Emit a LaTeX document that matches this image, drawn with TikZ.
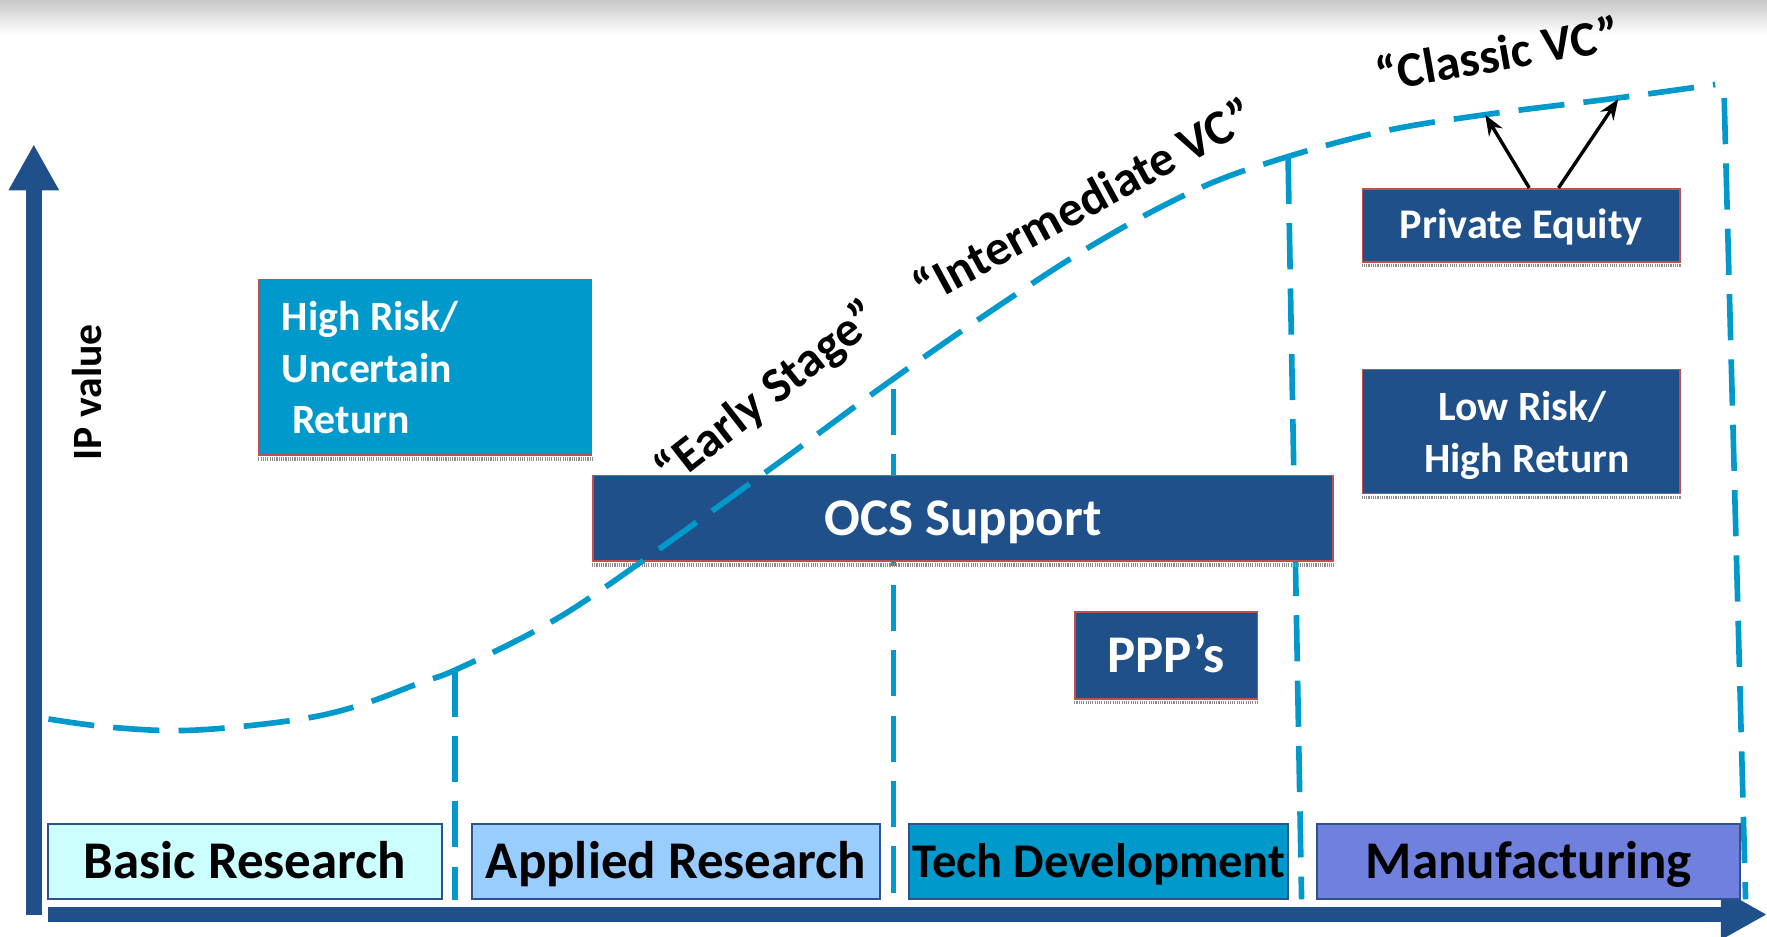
\documentclass[tikz,border=0pt]{standalone}
\usepackage{fontspec}
\setmainfont{Carlito}
\usetikzlibrary{arrows.meta}
\definecolor{navy}{RGB}{31,80,138}
\definecolor{cyanblue}{RGB}{0,153,204}
\definecolor{lightcyan}{RGB}{204,255,255}
\definecolor{paleblue}{RGB}{153,204,255}
\definecolor{manuf}{RGB}{111,128,222}
\definecolor{redline}{RGB}{192,80,77}
\definecolor{stageline}{RGB}{47,82,143}
\begin{document}
\begin{tikzpicture}[x=1pt,y=-1pt,
  fs/.style={font=\fontsize{#1}{#1}\selectfont\bfseries},
  stagebox/.style={draw=stageline, line width=1.8pt, inner sep=0pt, minimum height=67pt,
    text height=30.3pt, text depth=0pt, fs=47, text=black},
  darkbox/.style={draw=redline, line width=1.5pt, fill=navy, inner sep=0pt, text=white},
  shadowline/.style={draw=black!45, line width=3pt, dash pattern=on 1pt off 1pt},
  dashline/.style={draw=cyanblue, line width=5pt, dash pattern=on 41pt off 17pt},
  axisarrow/.style={draw=navy, line width=14pt, -{Triangle[length=41pt,width=42pt]}},
  ptr/.style={draw=black, line width=3pt, -{Stealth[length=18pt,width=14pt]}},
  rot/.style={text=black, fs=44, inner sep=0pt}]
\useasboundingbox (0,0) rectangle (1568,830.6);
\fill[white] (0,0) rectangle (1568,830.6);
\shade[top color=black!22, bottom color=white] (0,0) rectangle (1568,30);

% axes
\coordinate (yb) at (30,812);
\coordinate (yt) at (30,128);
\coordinate (xb) at (43,811.5);
\coordinate (xt) at (1568,811.5);
\draw[axisarrow] (yb) -- (yt);
\draw[axisarrow] (xb) -- (xt);

% stage dividers
\coordinate (d1t) at (404,595);  \coordinate (d1b) at (404,799);
\coordinate (d2t) at (793,345);  \coordinate (d2b) at (793,799);
\coordinate (d3t) at (1143,140); \coordinate (d3b) at (1155,798);
\coordinate (d4t) at (1530,87);  \coordinate (d4b) at (1549,798);
\draw[dashline] (d1t) -- (d1b);
\draw[dashline] (d2t) -- (d2b);
\draw[dashline] (d3t) -- (d3b);
\draw[dashline] (d4t) -- (d4b);

% stage boxes
\node[stagebox, fill=lightcyan, minimum width=349pt] (br) at (217.5,764.5) {Basic Research};
\node[stagebox, fill=paleblue, minimum width=362pt] (ar) at (600,764.5) {Applied Research};
\node[stagebox, fill=cyanblue, minimum width=336pt, fs=43, text height=27.7pt] (td) at (975,764.5) {Tech Development};
\node[stagebox, fill=manuf, minimum width=375pt] (mf) at (1356.5,764.5) {Manufacturing};

% high risk
\node[darkbox, fill=cyanblue, minimum width=295pt, minimum height=156pt] (hr) at (377.5,326) {};
\node[fs=37, text=white, anchor=base west, inner sep=0pt] (hr1) at (250,293) {High Risk/};
\node[fs=37, text=white, anchor=base west, inner sep=0pt] (hr2) at (250,339) {Uncertain};
\node[fs=37, text=white, anchor=base west, inner sep=0pt] (hr3) at (259,385) {Return};

% other boxes
\node[darkbox, minimum width=657pt, minimum height=76pt, fs=47, text height=30.3pt, text depth=0pt] (ocs) at (854.5,460) {OCS Support};
\node[darkbox, minimum width=162pt, minimum height=77pt, fs=47, text height=30.3pt, text depth=0pt] (ppp) at (1035,581.5) {PPP’s};
\node[darkbox, minimum width=282pt, minimum height=65pt, fs=37.5, text height=24.1pt, text depth=0pt] (pe) at (1350,200) {Private Equity};
\node[darkbox, minimum width=282pt, minimum height=110pt] (lr) at (1350,383) {};
\node[fs=37, text=white, anchor=base, inner sep=0pt] (lr1) at (1351,373.5) {Low Risk/};
\node[fs=37, text=white, anchor=base, inner sep=0pt] (lr2) at (1355,419.5) {High Return};

\foreach \b in {hr,ocs,ppp,pe,lr}
  \draw[shadowline] ([yshift=-2.6pt]\b.south west) -- ([yshift=-2.6pt]\b.south east);

% value curve
\draw[dashline] plot[smooth, tension=0.6] coordinates {(43,638) (100,645.5) (170,648) (261,639) (317,626.5) (372.5,606) (404,594.5) (477.5,558.4) (542,517.6) (684,415.7) (779,346) (874,279.6) (972,216) (1060,169) (1133,142) (1225,117) (1316,102) (1435,87) (1522,75)};

% arrows to curve
\coordinate (c1) at (1318,102);
\coordinate (c2) at (1436,88);
\draw[ptr] ([xshift=7pt]pe.north) -- (c1);
\draw[ptr] ([xshift=33pt]pe.north) -- (c2);

% labels
\node[rot, rotate=38] (es) at (682,350) {“Early Stage”};
\node[rot, rotate=28.5] (iv) at (961,178) {“Intermediate VC”};
\node[rot, rotate=10] (cv) at (1329,47) {“Classic VC”};
\node[fs=37, rotate=90, anchor=base, inner sep=0pt] (ip) at (90,348) {IP value};
\end{tikzpicture}
\end{document}
